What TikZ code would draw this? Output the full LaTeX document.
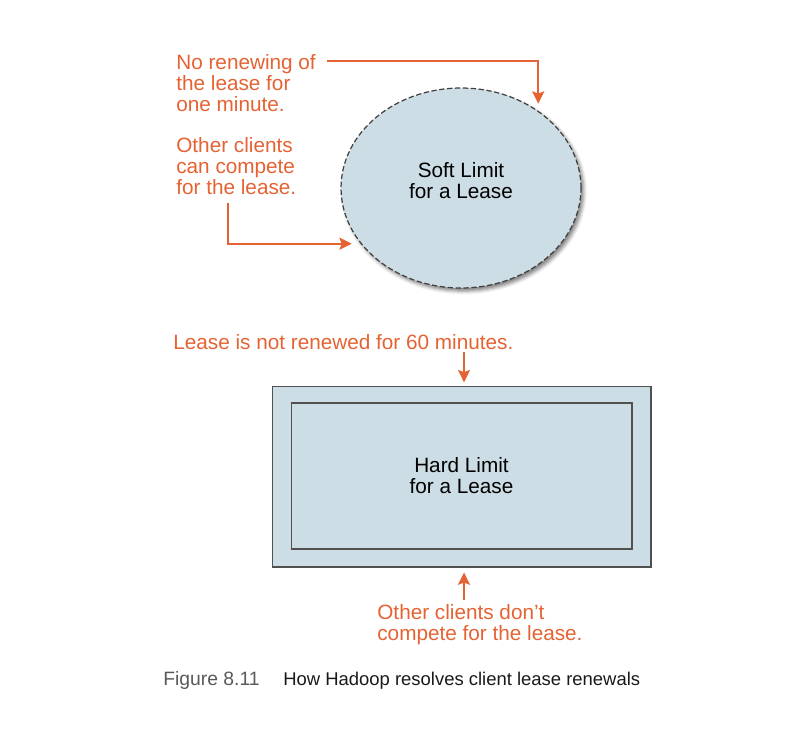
\documentclass[tikz,border=0pt]{standalone}
\usepackage{fontspec}
\setmainfont{Liberation Sans}
\usetikzlibrary{shapes.geometric,arrows.meta,shadows.blur}

\definecolor{leaseorange}{RGB}{229,98,50}
\definecolor{leasefill}{RGB}{204,221,229}
\definecolor{leaseborder}{RGB}{80,80,80}

\begin{document}
\begin{tikzpicture}[x=0.02cm, y=-0.02cm,
        note/.style={leaseorange, font=\fontsize{11.8}{11.95}\selectfont, align=left, inner sep=0, anchor=base west},
        fleche/.style={leaseorange, line width=1.2pt, -{Stealth[length=7pt,width=6.8pt,inset=1.2pt]}},
        boite/.style={draw=leaseborder, fill=leasefill, line width=0.6pt, inner sep=0,
            font=\fontsize{11.8}{11.95}\selectfont, align=center}]
        \useasboundingbox (0,0) rectangle (786,730);

        % Limite souple
        \node[boite, ellipse, draw=black!75, line width=0.7pt, dash pattern=on 3pt off 1.5pt,
            minimum width=4.8cm, minimum height=4cm,
            blur shadow={shadow xshift=1.5pt, shadow yshift=-1.8pt, shadow blur radius=2pt, shadow opacity=50}]
            (soft) at (461,188) {};
        \node[font=\fontsize{11.8}{11.95}\selectfont, align=center] (softlabel) at (461,181) {Soft Limit\\for a Lease};

        % base = derniere ligne
        \node[note] (renew) at (176,111) {No renewing of\\the lease for\\one minute.};
        \node[note] (compete) at (176,194) {Other clients\\can compete\\for the lease.};

        \coordinate (renewstart) at (327,61);
        \coordinate (competestart) at (228,203);
        \draw[fleche, shorten >=4pt] (renewstart) -| (soft.45);
        \draw[fleche, shorten >=5pt] (competestart) |- (soft.209.5);

        % Limite stricte
        \node[boite, minimum width=7.58cm, minimum height=3.62cm] (hard) at (461.5,476.5) {};
        \node[boite, minimum width=6.82cm, minimum height=2.92cm] (hardin) at (461.5,476) {Hard Limit\\for a Lease};

        \node[note] (notrenewed) at (173,349) {Lease is not renewed for 60 minutes.};
        \node[note] (dont) at (377,640) {Other clients don’t\\compete for the lease.};

        \coordinate (downstart) at (464,352);
        \coordinate (upstart) at (464,600);
        \draw[fleche, shorten >=1.8pt] (downstart) -- (downstart |- hard.north);
        \draw[fleche, shorten >=2.8pt] (upstart) -- (upstart |- hard.south);

        % Legende
        \node[font=\fontsize{11}{12}\selectfont, text=black!65, inner sep=0, anchor=base west] (fig) at (163,685) {Figure 8.11};
        \node[font=\fontsize{10.5}{12}\selectfont, text=black!90, inner sep=0, anchor=base west] (caption) at (283,685) {How Hadoop resolves client lease renewals};
    \end{tikzpicture}
\end{document}
